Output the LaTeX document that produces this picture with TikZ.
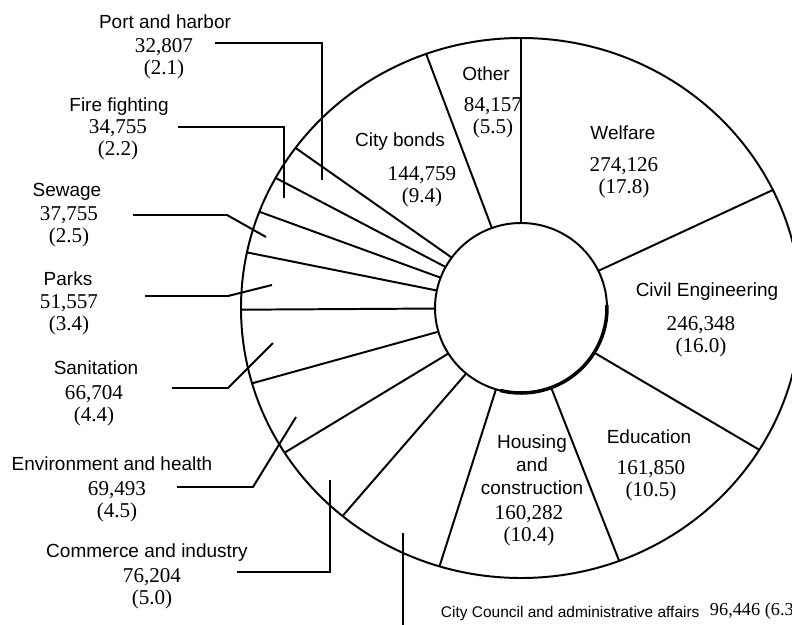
\documentclass[tikz,border=0pt]{standalone}
\usepackage{fontspec}
\setmainfont{Liberation Serif}
\setsansfont{Liberation Sans}
\begin{document}
\begin{tikzpicture}[x=0.025cm, y=-0.025cm, line width=1.4pt,
	bez/.style={font=\sffamily\fontsize{13.5}{16.4}\selectfont, inner sep=0pt, align=center},
	wert/.style={font=\fontsize{15}{15.6}\selectfont, inner sep=0pt, align=center}]
		\useasboundingbox (0,0) rectangle (792,625);
		% Ringe und Speichen
		\coordinate (m) at (521,308);
		\draw (m) ellipse [x radius=280, y radius=270];
		\draw (m) ellipse [x radius=86, y radius=85];
		\draw [line width=2.5pt] ([shift={(-2:86 and 85)}]m) arc [start angle=-2, end angle=104, x radius=86, y radius=85];
		\foreach \c [evaluate=\c as \a using 3.6*\c-90] in {0,17.8,33.8,44.3,54.7,61.0,66.0,70.5,74.9,78.3,80.8,83.0,85.1,94.5}
			\draw ([shift={(\a:86 and 85)}]m) -- ([shift={(\a:280 and 270)}]m);
		% Beschriftung innen
		\node [bez] (welfare) at (623,133) {Welfare};
		\node [wert] (welfarev) at (624,178) {274,126\\(17.8)};
		\node [bez] (civil) at (707,292) {Civil Engineering};
		\node [wert] (civilv) at (701,337) {246,348\\(16.0)};
		\node [bez] (edu) at (649,437) {Education};
		\node [wert] (eduv) at (651,481) {161,850\\(10.5)};
		\node [bez] (housing) at (532,465) {Housing\\and\\construction};
		\node [wert] (housingv) at (529,526) {160,282\\(10.4)};
		\node [bez] (bonds) at (400,142) {City bonds};
		\node [wert] (bondsv) at (422,187) {144,759\\(9.4)};
		\node [bez] (other) at (486,74) {Other};
		\node [wert] (otherv) at (493,118) {84,157\\(5.5)};
		% Beschriftung aussen
		\node [bez] (port) at (165,22) {Port and harbor};
		\node [wert] (portv) at (164,59) {32,807\\(2.1)};
		\node [bez] (fire) at (119,107) {Fire fighting};
		\node [wert] (firev) at (118,140) {34,755\\(2.2)};
		\node [bez] (sewage) at (67,192) {Sewage};
		\node [wert] (sewagev) at (69,227) {37,755\\(2.5)};
		\node [bez] (parks) at (68,279) {Parks};
		\node [wert] (parksv) at (69,315) {51,557\\(3.4)};
		\node [bez] (sanit) at (96,368) {Sanitation};
		\node [wert] (sanitv) at (94,406) {66,704\\(4.4)};
		\node [bez] (env) at (112,464) {Environment and health};
		\node [wert] (envv) at (117,502) {69,493\\(4.5)};
		\node [bez] (comm) at (147,553) {Commerce and industry};
		\node [wert] (commv) at (152,589) {76,204\\(5.0)};
		\node [bez, anchor=west, font=\sffamily\fontsize{11}{13}\selectfont] (council) at (440,613) {City Council and administrative affairs};
		\node [wert, anchor=west, font=\fontsize{13}{14}\selectfont] (councilv) at (709,611) {96,446 (6.3};
		% Hinweislinien
		\coordinate (portA) at (215,43);   \coordinate (portB) at (322,180);
		\coordinate (fireA) at (178,127);  \coordinate (fireB) at (284,198);
		\coordinate (sewA) at (133,215);   \coordinate (sewB) at (266,237);
		\coordinate (parkA) at (145,296);  \coordinate (parkB) at (272,285);
		\coordinate (sanA) at (172,388);   \coordinate (sanB) at (273,343);
		\coordinate (envA) at (177,487);   \coordinate (envB) at (296,417);
		\coordinate (commA) at (237,572);  \coordinate (commB) at (330,480);
		\coordinate (counA) at (403,533);  \coordinate (counB) at (403,625);
		\draw (portA) -| (portB);
		\draw (fireA) -| (fireB);
		\draw (sewA) -- ++(94,0) -- (sewB);
		\draw (parkA) -- ++(83,0) -- (parkB);
		\draw (sanA) -- ++(56,0) -- (sanB);
		\draw (envA) -- ++(76,0) -- (envB);
		\draw (commA) -| (commB);
		\draw (counA) -- (counB);
\end{tikzpicture}
\end{document}
